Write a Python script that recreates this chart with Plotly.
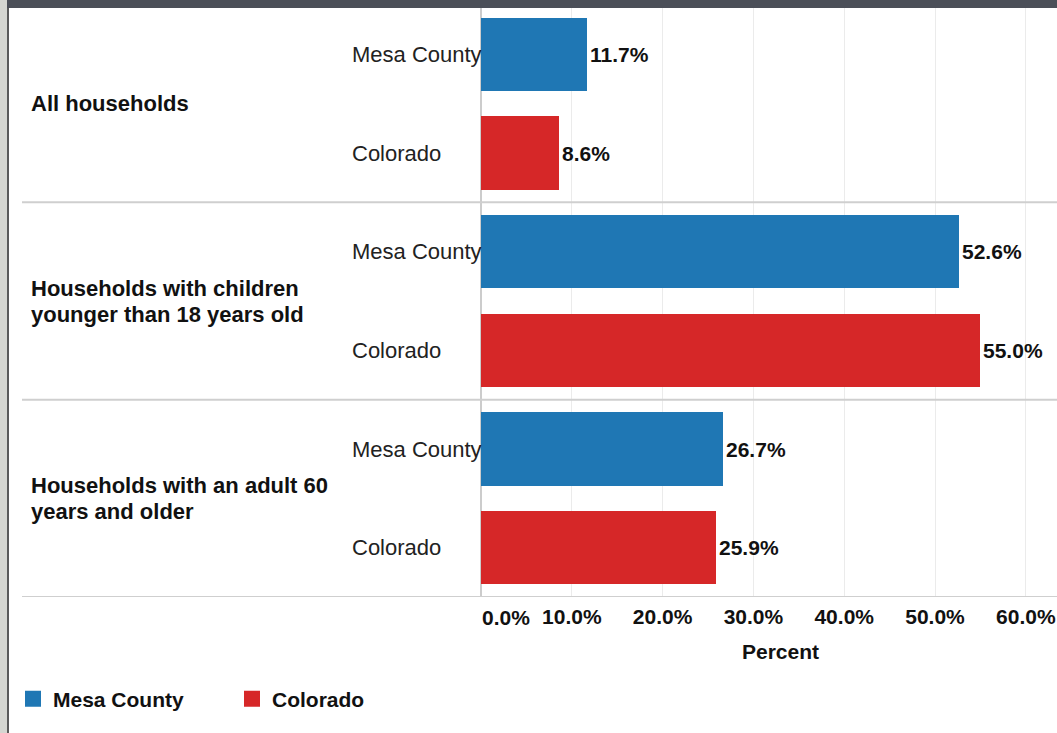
import plotly.graph_objects as go

# ---- data ----
groups = ["All households",
          "Households with children<br>younger than 18 years old",
          "Households with an adult 60<br>years and older"]
series_names = ["Mesa County", "Colorado"]
mesa_values = [11.7, 52.6, 26.7]
colorado_values = [8.6, 55.0, 25.9]
tick_values = [0, 10, 20, 30, 40, 50, 60]
tick_labels = ["0.0%", "10.0%", "20.0%", "30.0%", "40.0%", "50.0%", "60.0%"]
colors = {"Mesa County": "#1f77b4", "Colorado": "#d62728"}

W, H = 1057, 733
L, R, T, B = 481, 0, 5, 136
pw, ph = W - L - R, H - T - B
FONT = "Liberation Sans, Arial, sans-serif"
FS = 21
FT = 22

def px_x(px):  # pixel -> paper x
    return (px - L) / pw

def px_y(py):  # pixel (from top) -> paper y
    return 1 - (py - T) / ph

# row positions: each group has Mesa then Colorado
mesa_pos = [2 * i for i in range(len(groups))]
col_pos = [2 * i + 1 for i in range(len(groups))]

fig = go.Figure()
for name, vals, pos in [("Mesa County", mesa_values, mesa_pos),
                        ("Colorado", colorado_values, col_pos)]:
    fig.add_trace(go.Bar(
        name=name, x=vals, y=pos, orientation="h", width=0.74,
        marker=dict(color=colors[name], line=dict(width=0)),
        text=[f"{v:.1f}%" for v in vals], textposition="outside",
        textfont=dict(family=FONT, size=FS, color="#111", weight="bold"),
        constraintext="none", cliponaxis=False, showlegend=False, legendgroup=name,
    ))
# legend entries (square swatches)
for name in series_names:
    fig.add_trace(go.Scatter(
        name=name, x=[None], y=[None], mode="markers", legendgroup=name,
        marker=dict(symbol="square", size=18, color=colors[name], line=dict(width=0)),
        showlegend=True, hoverinfo="skip",
    ))

annotations = []
# series row labels
for pos in mesa_pos:
    annotations.append(dict(x=px_x(350), xref="paper", y=pos, yref="y", text="Mesa County",
                            xanchor="left", yanchor="middle", showarrow=False,
                            font=dict(family=FONT, size=FT, color="#222")))
for pos in col_pos:
    annotations.append(dict(x=px_x(350), xref="paper", y=pos, yref="y", text="Colorado",
                            xanchor="left", yanchor="middle", showarrow=False,
                            font=dict(family=FONT, size=FT, color="#222")))
# group labels (one annotation per line, 26px line spacing)
for i, g in enumerate(groups):
    lines = g.split("<br>")
    n = len(lines)
    for k, ln in enumerate(lines):
        annotations.append(dict(x=px_x(29), xref="paper", y=2 * i + 0.5, yref="y", text=ln,
                                xanchor="left", yanchor="middle", align="left", showarrow=False,
                                yshift=-(k - (n - 1) / 2) * 26,
                                font=dict(family=FONT, size=FT, color="#111", weight="bold")))
# 0.0% tick label (left aligned at the zero line)
annotations.append(dict(x=tick_values[0], xref="x", y=px_y(617), yref="paper", text=tick_labels[0],
                        xanchor="left", yanchor="middle", showarrow=False, xshift=-1,
                        font=dict(family=FONT, size=FS, color="#111", weight="bold")))
# axis title
annotations.append(dict(x=px_x(780), xref="paper", y=px_y(651), yref="paper", text="Percent",
                        xanchor="center", yanchor="middle", showarrow=False,
                        font=dict(family=FONT, size=FS, color="#111", weight="bold")))

shapes = []
# group separators
for i in range(len(groups)):
    shapes.append(dict(type="line", xref="paper", yref="y", x0=px_x(22), x1=1,
                       y0=2 * i + 1.5, y1=2 * i + 1.5, line=dict(color="#cfcfcf", width=2)))
# frame: top dark bar, left gray edge
shapes.append(dict(type="rect", xref="paper", yref="paper", x0=px_x(0), x1=1.0,
                   y0=px_y(8), y1=px_y(0), fillcolor="#4b4f58", line=dict(width=0), layer="above"))
shapes.append(dict(type="rect", xref="paper", yref="paper", x0=px_x(0), x1=px_x(7),
                   y0=px_y(H), y1=px_y(0), fillcolor="#d5d6d1", line=dict(width=0), layer="above"))
shapes.append(dict(type="rect", xref="paper", yref="paper", x0=px_x(7), x1=px_x(9),
                   y0=px_y(H), y1=px_y(8), fillcolor="#5a5a5a", line=dict(width=0), layer="above"))

fig.update_layout(
    width=W, height=H,
    margin=dict(l=L, r=R, t=T, b=B, pad=0),
    paper_bgcolor="white", plot_bgcolor="white",
    bargap=0, barmode="overlay",
    font=dict(family=FONT, size=FS, color="#111"),
    xaxis=dict(range=[0, pw / 9.08], tickvals=tick_values[1:], ticktext=tick_labels[1:],
               showgrid=True, gridcolor="#ebebeb", gridwidth=1,
               zeroline=True, zerolinecolor="#cccccc", zerolinewidth=2,
               showline=False, ticks="", fixedrange=True, ticklabelstandoff=5,
               tickfont=dict(family=FONT, size=FS, color="#111", weight="bold")),
    yaxis=dict(range=[5.5, -0.5], showticklabels=False, showgrid=False, zeroline=False,
               ticks="", fixedrange=True),
    showlegend=True,
    legend=dict(orientation="h", xref="container", yref="container",
                x=13 / W, y=1 - 699 / H, xanchor="left", yanchor="middle",
                font=dict(family=FONT, size=FS, color="#111", weight="bold"),
                itemwidth=30, entrywidth=174, entrywidthmode="pixels", itemsizing="trace",
                bgcolor="rgba(0,0,0,0)", traceorder="normal"),
    annotations=annotations, shapes=shapes,
)

fig.write_html("out.html", config={"displayModeBar": False},
               post_script="document.body.style.margin='0';")
